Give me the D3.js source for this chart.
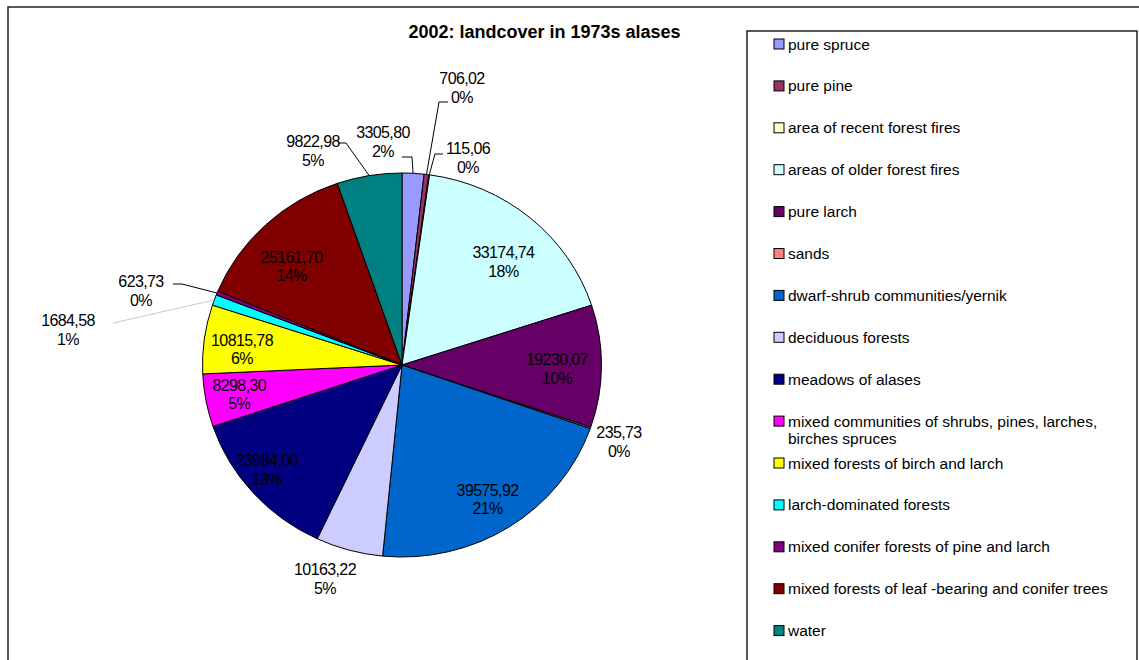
<!DOCTYPE html>
<html>
<head>
<meta charset="utf-8">
<script src="https://cdn.jsdelivr.net/npm/d3@7"></script>
<style>
  html, body { margin: 0; padding: 0; background: #fff; }
  svg { display: block; font-family: "Liberation Sans", Arial, sans-serif; }
</style>
</head>
<body>
<svg id="chart" width="1139" height="660"></svg>
<script>
// ---- data ----
const title = "2002: landcover in 1973s alases";
const categories = [
  "pure spruce",
  "pure pine",
  "area of recent forest fires",
  "areas of older forest fires",
  "pure larch",
  "sands",
  "dwarf-shrub communities/yernik",
  "deciduous forests",
  "meadows of alases",
  "mixed communities of shrubs, pines, larches, birches spruces",
  "mixed forests of birch and larch",
  "larch-dominated forests",
  "mixed conifer forests of pine and larch",
  "mixed forests of leaf -bearing and conifer trees",
  "water"
];
const values = [3305.80, 706.02, 115.06, 33174.74, 19230.07, 235.73, 39575.92, 10163.22,
                23984.00, 8298.30, 10815.78, 1684.58, 623.73, 25161.70, 9822.98];
const percentLabels = ["2%", "0%", "0%", "18%", "10%", "0%", "21%", "5%",
                       "13%", "5%", "6%", "1%", "0%", "14%", "5%"];
const colors = ["#9999FF", "#993366", "#FFFFCC", "#CCFFFF", "#660066", "#FF8080", "#0066CC", "#CCCCFF",
                "#000080", "#FF00FF", "#FFFF00", "#00FFFF", "#800080", "#800000", "#008080"];

// ---- layout (styling only) ----
const W = 1139, H = 660;
const cx = 402, cy = 365, rx = 199.5, ry = 192;
const lineGap = 18.5;
// inside labels: radial fraction and angle tweak (deg)
const insideLayout = {
  3: {f: 0.74, da: 3.5}, 4: {f: 0.777, da: 1}, 6: {f: 0.82, da: 1}, 8: {f: 0.87, da: 3},
  9: {f: 0.83, da: 0}, 10: {f: 0.806, da: -2}, 13: {f: 0.755, da: -4}
};
// outside labels: text centre offset from pie centre, optional leader elbow (relative to text centre)
const outsideLayout = {
  0:  {dx: -19, dy: -223, end: [19, 15], elbow: [29, 15]},
  1:  {dx: 60,  dy: -277, end: [-14, 14], elbow: [-23, 14]},
  2:  {dx: 66,  dy: -207, end: [-25, -4], elbow: [-33, -4]},
  5:  {dx: 217, dy: 77},
  7:  {dx: -77, dy: 214},
  11: {dx: -334, dy: -35, end: [45, -7], gray: true},
  12: {dx: -261, dy: -74, end: [32, -7], elbow: [41, -7]},
  14: {dx: -89, dy: -214, end: [25, -8], elbow: [33, -8]}
};

const svg = d3.select("#chart");
const fmt = v => d3.format(".2f")(v).replace(".", ",");

// outer chart border
svg.append("rect").attr("x", 8).attr("y", 7).attr("width", 1145).attr("height", 670)
  .attr("fill", "#fff").attr("stroke", "#222").attr("stroke-width", 1.5);

// title
svg.append("text").attr("x", 544.5).attr("y", 38).attr("text-anchor", "middle")
  .attr("font-size", 18).attr("font-weight", "bold").attr("letter-spacing", 0).text(title);

// pie
const data = values.map((v, i) => ({name: categories[i], value: v, i}));
const pie = d3.pie().sort(null).value(d => d.value).startAngle(0).endAngle(2 * Math.PI);
const arcs = pie(data);
const arc = d3.arc().innerRadius(0).outerRadius(rx);

const pg = svg.append("g").attr("transform", `translate(${cx},${cy}) scale(1,${ry / rx})`);
pg.selectAll("path").data(arcs).join("path")
  .attr("d", arc)
  .attr("fill", d => colors[d.data.i])
  .attr("stroke", "#000").attr("stroke-width", 1)
  .attr("vector-effect", "non-scaling-stroke");

const pt = (a, f) => [cx + f * rx * Math.sin(a), cy - f * ry * Math.cos(a)];

function twoLines(x, y, l1, l2) {
  const t = svg.append("text").attr("text-anchor", "middle").attr("font-size", 16)
    .attr("letter-spacing", -0.6).attr("fill", "#000");
  t.append("tspan").attr("x", x).attr("y", y - lineGap / 2 + 5.7).text(l1);
  t.append("tspan").attr("x", x).attr("y", y + lineGap / 2 + 5.7).text(l2);
}

arcs.forEach(d => {
  const i = d.data.i;
  const mid = (d.startAngle + d.endAngle) / 2;
  if (insideLayout[i]) {
    const L = insideLayout[i];
    const [x, y] = pt(mid + L.da * Math.PI / 180, L.f);
    twoLines(x, y, fmt(values[i]), percentLabels[i]);
  } else if (outsideLayout[i]) {
    const L = outsideLayout[i];
    const x = cx + L.dx, y = cy + L.dy;
    if (L.end) {
      const rim = pt(mid, 1);
      const pts = [[x + L.end[0], y + L.end[1]]];
      if (L.elbow) pts.push([x + L.elbow[0], y + L.elbow[1]]);
      pts.push(rim);
      svg.append("path").attr("d", d3.line()(pts)).attr("fill", "none")
        .attr("stroke", L.gray ? "#c8c8c8" : "#000").attr("stroke-width", 1);
    }
    twoLines(x, y, fmt(values[i]), percentLabels[i]);
  }
});

// legend
const lg = svg.append("g");
lg.append("rect").attr("x", 747).attr("y", 31).attr("width", 390).attr("height", 650)
  .attr("fill", "#fff").attr("stroke", "#222").attr("stroke-width", 1.5);
const maxW = 335;
categories.forEach((c, i) => {
  const yc = 44 + i * 41.9;
  lg.append("rect").attr("x", 774).attr("y", yc - 5).attr("width", 10).attr("height", 10)
    .attr("fill", colors[i]).attr("stroke", "#000").attr("stroke-width", 1);
  const t = lg.append("text").attr("font-size", 15.5).attr("fill", "#000");
  const words = c.split(" ");
  let line = [], ln = 0;
  let ts = t.append("tspan").attr("x", 788).attr("y", yc + 5.5);
  words.forEach(w => {
    line.push(w);
    ts.text(line.join(" "));
    if (ts.node().getComputedTextLength() > maxW && line.length > 1) {
      line.pop();
      ts.text(line.join(" "));
      line = [w];
      ln++;
      ts = t.append("tspan").attr("x", 788).attr("y", yc + 5.5 + ln * 17).text(w);
    }
  });
});
</script>
</body>
</html>
